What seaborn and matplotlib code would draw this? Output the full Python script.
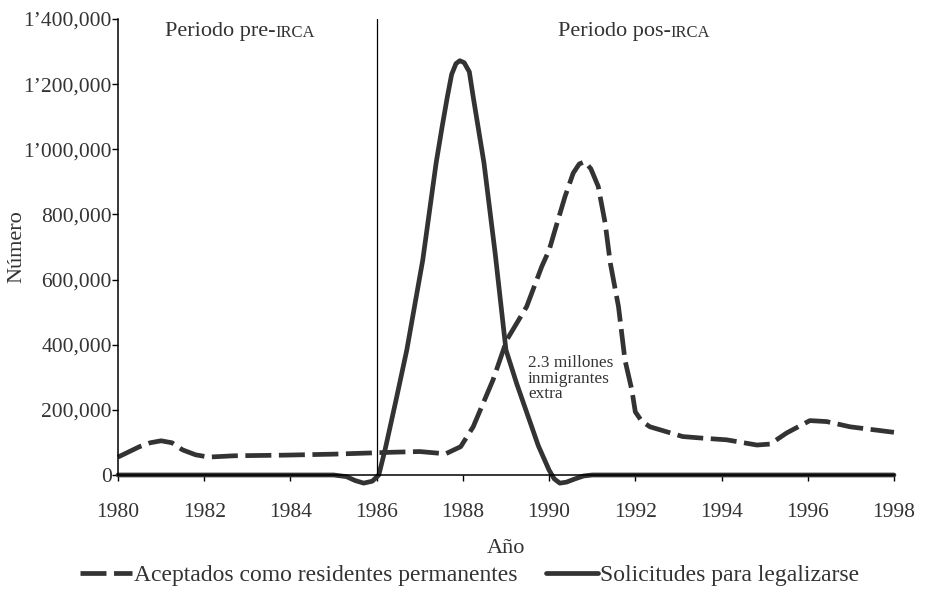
import numpy as np
import pandas as pd
import matplotlib
matplotlib.use("Agg")
import matplotlib.pyplot as plt
import seaborn as sns

# Aceptados como residentes permanentes
acep_year = [1980, 1980.5, 1980.75, 1981, 1981.25, 1981.5, 1981.8, 1982.1, 1982.7,
             1983.9, 1985, 1986.4, 1987, 1987.6, 1987.95, 1988.24, 1988.7, 1989.02,
             1989.48, 1989.83, 1990, 1990.14, 1990.37, 1990.56, 1990.7, 1990.83,
             1990.97, 1991.14, 1991.3, 1991.42, 1991.61, 1991.76, 1991.92, 1992,
             1992.15, 1992.34, 1993.1, 1993.57, 1994.12, 1994.82, 1995.13, 1995.51,
             1996.05, 1996.44, 1996.98, 1998]
acep_vals = [55000, 87000, 99000, 105000, 99000, 77000, 62000, 55000, 59000,
             61000, 64000, 70000, 72000, 65000, 87000, 148000, 292000, 415000,
             517000, 640000, 690000, 753000, 855000, 927000, 955000, 962000,
             940000, 886000, 774000, 651000, 517000, 353000, 261000, 194000,
             165000, 148000, 118000, 113000, 108000, 92000, 95000, 129000,
             167000, 164000, 148000, 131000]

# Solicitudes para legalizarse
sol_year = [1980, 1985, 1985.3, 1985.5, 1985.7, 1985.9, 1986.05, 1986.2, 1986.45,
            1986.7, 1987.07, 1987.38, 1987.52, 1987.64, 1987.74, 1987.84, 1987.93,
            1988.03, 1988.15, 1988.24, 1988.49, 1988.75, 1989, 1989.25, 1989.5,
            1989.75, 1990, 1990.12, 1990.25, 1990.4, 1990.6, 1990.8, 1991, 1998]
sol_vals = [0, 0, -5000, -17000, -25000, -19000, 0, 80000, 230000,
            384000, 660000, 958000, 1070000, 1161000, 1230000, 1263000, 1272000,
            1266000, 1238000, 1161000, 958000, 680000, 384000, 280000, 185000,
            90000, 15000, -12000, -25000, -22000, -12000, -3000, 0, 0]

x_ticks = list(range(1980, 1999, 2))
y_ticks = [0, 200000, 400000, 600000, 800000, 1000000, 1200000, 1400000]
y_labels = ["0", "200,000", "400,000", "600,000", "800,000",
            "1\u2019000,000", "1\u2019200,000", "1\u2019400,000"]

acep = pd.DataFrame({"year": acep_year, "value": acep_vals})
sol = pd.DataFrame({"year": sol_year, "value": sol_vals})

sns.set_theme(style="ticks")
plt.rcParams["font.family"] = ["Liberation Serif", "DejaVu Serif"]
ink = "#333333"
plt.rcParams["text.color"] = ink
fs = 16

fig = plt.figure(figsize=(9.26, 5.98), dpi=100)
ax = fig.add_axes([0.1274, 0.2057, 0.838, 0.7625])

sns.lineplot(data=acep, x="year", y="value", ax=ax, color=ink, lw=3.4,
             label="Aceptados como residentes permanentes")
sns.lineplot(data=sol, x="year", y="value", ax=ax, color=ink, lw=3.4,
             label="Solicitudes para legalizarse")
ax.lines[0].set_dashes((5.5, 1.6))
for ln in ax.lines:
    ln.set_clip_on(False)
    ln.set_solid_joinstyle("round")
    ln.set_dash_joinstyle("round")

ax.axvline(1986, color="black", lw=0.9)

ax.set_xlim(1980, 1998)
ax.set_ylim(0, 1400000)
ax.set_xticks(x_ticks)
ax.set_yticks(y_ticks)
ax.set_yticklabels(y_labels)
ax.tick_params(axis="both", labelsize=15.5, colors="black", labelcolor=ink,
               length=4, width=1)
ax.tick_params(axis="x", pad=16.5)
ax.tick_params(axis="y", pad=0.5)
for s in ["top", "right"]:
    ax.spines[s].set_visible(False)
for s in ["left", "bottom"]:
    ax.spines[s].set_linewidth(1.1)
    ax.spines[s].set_color("black")

ax.set_xlabel("Año", fontsize=fs, color=ink, labelpad=12)
ax.set_ylabel("Número", fontsize=fs, color=ink, labelpad=-2)

# period labels with small caps IRCA
t1 = ax.text(1981.09, 1392000, "Periodo pre-", fontsize=fs, va="top")
ax.annotate("IRCA", xy=(1, 0), xycoords=t1, fontsize=12, va="bottom",
            color=ink)
t2 = ax.text(1990.2, 1392000, "Periodo pos-", fontsize=fs, va="top")
ax.annotate("IRCA", xy=(1, 0), xycoords=t2, fontsize=12, va="bottom",
            color=ink)

ax.text(1989.51, 368000, "2.3 millones\ninmigrantes\nextra", fontsize=12.4,
        va="top", ha="left", linespacing=0.95)

handles, labels = ax.get_legend_handles_labels()
ax.legend(handles, labels, loc="center", bbox_to_anchor=(0.453, -0.22),
          ncol=2, frameon=False, fontsize=17, handlelength=2.2,
          handletextpad=0.1, columnspacing=1.2)

fig.savefig("out.png", dpi=100)
